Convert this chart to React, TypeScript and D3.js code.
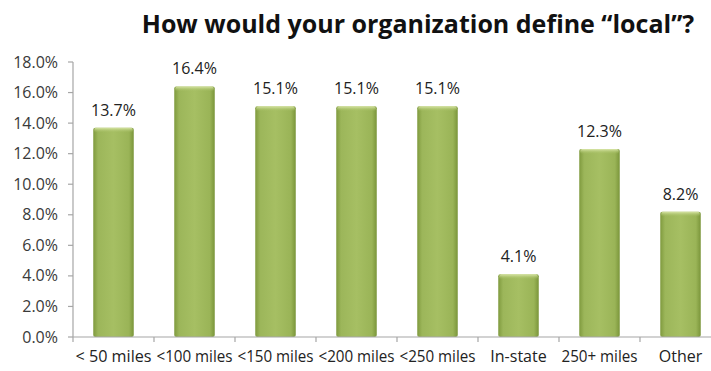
import React from "react";
import * as d3 from "d3";

const categories = ["< 50 miles", "<100 miles", "<150 miles", "<200 miles", "<250 miles", "In-state", "250+ miles", "Other"];
const values = [13.7, 16.4, 15.1, 15.1, 15.1, 4.1, 12.3, 8.2];
const yTicks = [0, 2, 4, 6, 8, 10, 12, 14, 16, 18];
const title = "How would your organization define \u201Clocal\u201D?";

const W = 711;
const H = 371;
const left = 73;
const step = 81;
const top = 62;
const bottom = 337;

export default function App() {
  const x = d3
    .scaleBand<string>()
    .domain(categories)
    .range([left, left + step * categories.length])
    .paddingInner(0.5)
    .paddingOuter(0.25);
  const y = d3.scaleLinear().domain([0, 18]).range([bottom, top]);
  const font = "Open Sans, Liberation Sans, sans-serif";
  const boundaries = d3.range(categories.length + 1).map((i) => left + i * step);
  return (
    <div style={{ position: "fixed", left: 0, top: 0 }}>
      <svg width={W} height={H} style={{ display: "block", background: "#fff" }}>
        <defs>
          <linearGradient id="barH" x1="0" x2="1" y1="0" y2="0">
            <stop offset="0" stopColor="#7f9a3e" />
            <stop offset="0.12" stopColor="#9cb65a" />
            <stop offset="0.5" stopColor="#a6bf63" />
            <stop offset="0.88" stopColor="#9ab457" />
            <stop offset="1" stopColor="#7a953a" />
          </linearGradient>
          <linearGradient id="barTop" x1="0" x2="0" y1="0" y2="1">
            <stop offset="0" stopColor="#d9e6a8" />
            <stop offset="1" stopColor="#a6bf63" stopOpacity="0" />
          </linearGradient>
        </defs>
        <text
          x={418}
          y={33}
          textAnchor="middle"
          fontFamily={font}
          fontWeight="bold"
          fontSize={25}
          fill="#111"
        >
          {title}
        </text>
        {/* y axis */}
        <line x1={left} x2={left} y1={top} y2={bottom} stroke="#a6a6a6" strokeWidth={1.2} />
        {yTicks.map((t) => (
          <g key={t}>
            <line x1={left - 5} x2={left} y1={y(t)} y2={y(t)} stroke="#a6a6a6" strokeWidth={1.2} />
            <text x={left - 15} y={y(t) + 5.5} textAnchor="end" fontFamily={font} fontSize={16} fill="#3a3a3a">
              {t.toFixed(1) + "%"}
            </text>
          </g>
        ))}
        {/* bars */}
        {categories.map((c, i) => {
          const bx = x(c)!;
          const bw = x.bandwidth();
          const by = y(values[i]);
          const bh = bottom - by;
          return (
            <g key={c}>
              <rect x={bx} y={by} width={bw} height={bh} rx={2} fill="url(#barH)" />
              <rect x={bx + 1} y={by} width={bw - 2} height={Math.min(5, bh)} rx={2} fill="url(#barTop)" />
              <text
                x={bx + bw / 2}
                y={by - 12}
                textAnchor="middle"
                fontFamily={font}
                fontSize={16}
                fill="#222"
              >
                {values[i].toFixed(1) + "%"}
              </text>
              <text
                x={bx + bw / 2}
                y={362}
                textAnchor="middle"
                fontFamily={font}
                fontSize={16}
                fill="#222"
                textLength={c.length > 8 ? 76 : undefined}
                lengthAdjust="spacingAndGlyphs"
              >
                {c}
              </text>
            </g>
          );
        })}
        {/* x axis */}
        <line x1={left} x2={left + step * categories.length} y1={bottom} y2={bottom} stroke="#a6a6a6" strokeWidth={1.2} />
        {boundaries.map((b) => (
          <line key={b} x1={b} x2={b} y1={bottom} y2={bottom + 5} stroke="#a6a6a6" strokeWidth={1.2} />
        ))}
      </svg>
    </div>
  );
}
